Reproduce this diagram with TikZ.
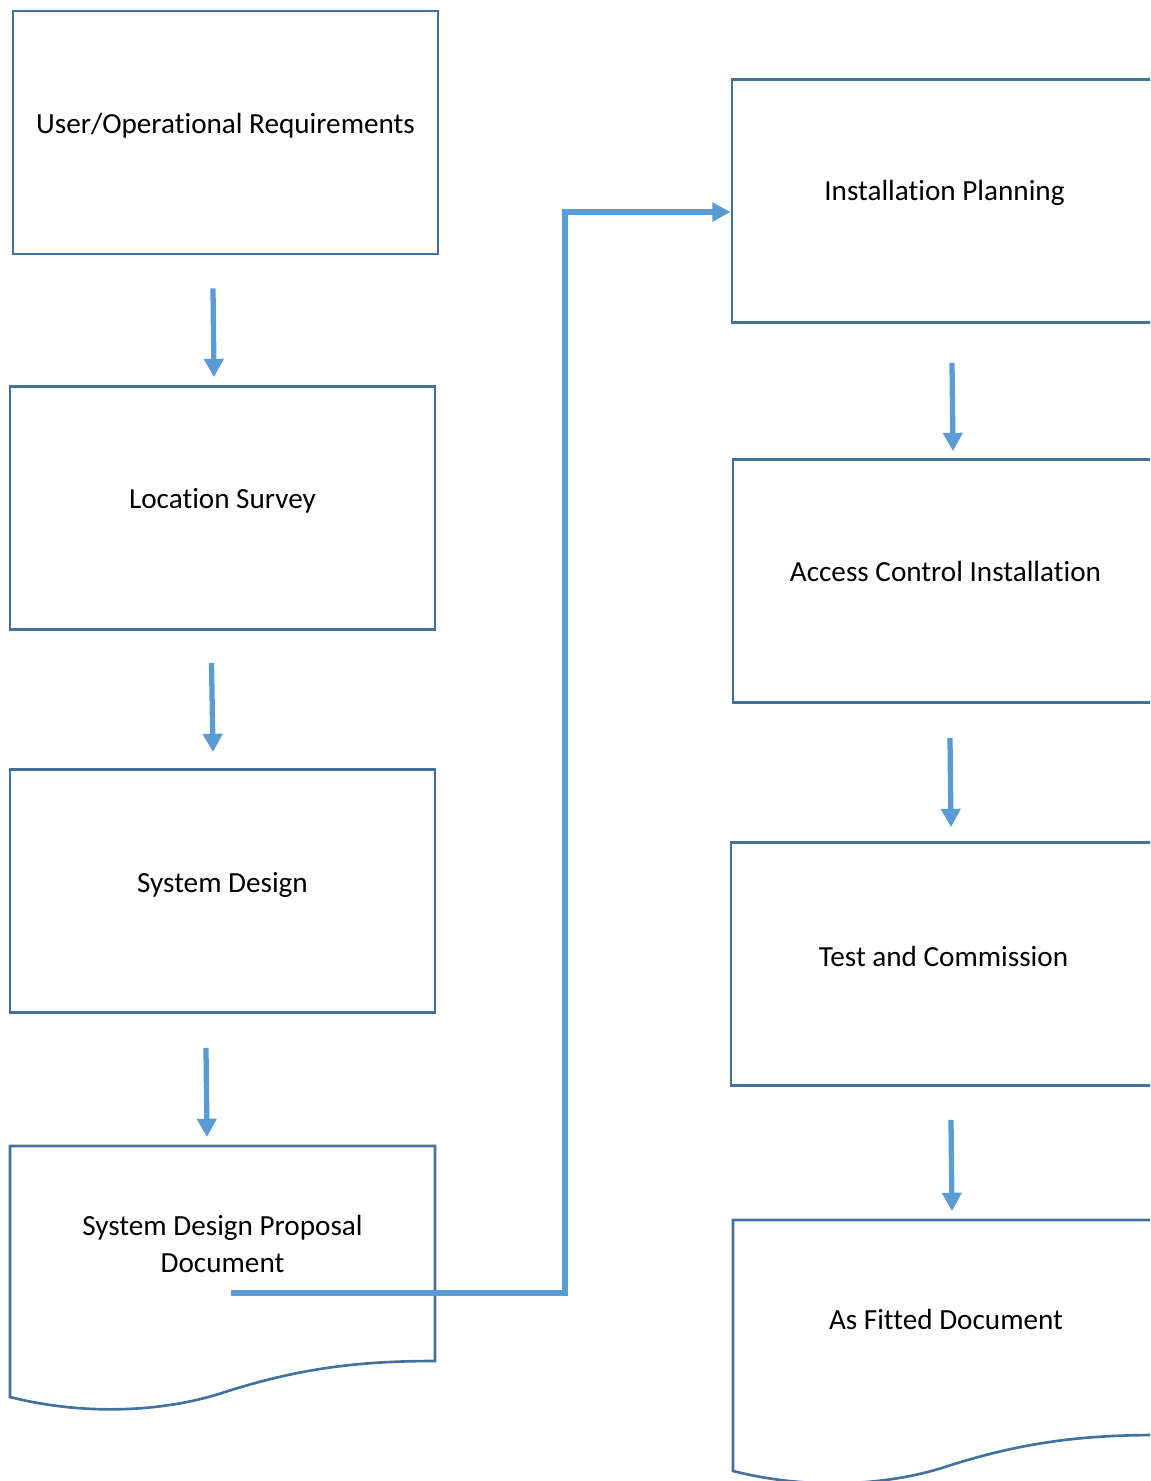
\documentclass[tikz,border=0pt]{standalone}
\usepackage{fontspec}
\setmainfont{Carlito}[Ligatures=NoCommon]
\usepackage{tikz}
\usetikzlibrary{arrows.meta, calc}
\definecolor{boxblue}{HTML}{41719C}
\definecolor{flowblue}{HTML}{5B9BD5}

\tikzset{
  pics/paper/.style={code={
    \draw[boxblue, line width=0.75pt] (0,251) -- (0,0) -- (425,0) -- (425,215)
      .. controls (350,215) and (290,222) .. (215,246)
      .. controls (155,266) and (75,270) .. (0,251) -- cycle;
    \coordinate (-top) at (212.5,0);
  }}
}

\begin{document}
\begin{tikzpicture}[x=0.01cm, y=-0.01cm,
    font=\fontsize{8.3}{10.5}\selectfont,
    box/.style={draw=boxblue, line width=0.75pt, minimum width=4.25cm, minimum height=2.43cm, inner sep=0pt},
    txt/.style={align=center, inner sep=0pt},
    flow/.style={draw=flowblue, line width=1.5pt, -{Triangle[width=5.4pt,length=5.2pt]}},
    link/.style={draw=flowblue, line width=1.45pt, -{Triangle[width=5.2pt,length=5.2pt]}}]
  \useasboundingbox (0,0) rectangle (1150,1481);
  \clip (0,0) rectangle (1150,1481);

  % left column
  \node[box, label={[txt, yshift=0.7mm]center:User/Operational Requirements}] (req) at (225.5,132.5) {};
  \node[box, label={[txt, yshift=0.75mm]center:Location Survey}] (survey) at (222.5,508) {};
  \node[box, label={[txt, yshift=0.65mm]center:System Design}] (design) at (222.5,891) {};
  \pic (proposal) at (10,1146) {paper};
  \node[txt] (proposaltext) at (222.5,1244) {System Design Proposal\\Document};

  % right column
  \node[box, label={[txt, yshift=0.85mm]center:Installation Planning}] (plan) at (944.5,201) {};
  \node[box, label={[txt, yshift=1mm]center:Access Control Installation}] (access) at (945.5,581) {};
  \node[box, label={[txt, yshift=0.8mm]center:Test and Commission}] (test) at (943.5,964) {};
  \pic (fitted) at (733,1220) {paper};
  \node[txt] (fittedtext) at (946,1319) {As Fitted Document};

  % steps
  \draw[flow] ([shift={(-12.5,33)}]req.south) -- ([shift={(-8.5,-8)}]survey.north);
  \draw[flow] ([shift={(-11,32)}]survey.south) -- ([shift={(-9.5,-16)}]design.north);
  \draw[flow] ([shift={(-16.5,34)}]design.south) -- ([shift={(-15.5,-9)}]proposal-top);
  \draw[flow] ([shift={(7.5,39)}]plan.south) -- ([shift={(7.5,-7)}]access.north);
  \draw[flow] ([shift={(4.5,34)}]access.south) -- ([shift={(7.5,-14)}]test.north);
  \draw[flow] ([shift={(7.5,33)}]test.south) -- ([shift={(6.5,-9)}]fitted-top);

  % hand over to installation
  \coordinate (handoff) at (231,1293);
  \coordinate (riser) at (565,212);
  \draw[link] (handoff) -| (riser) -- (riser -| plan.west);
\end{tikzpicture}
\end{document}
